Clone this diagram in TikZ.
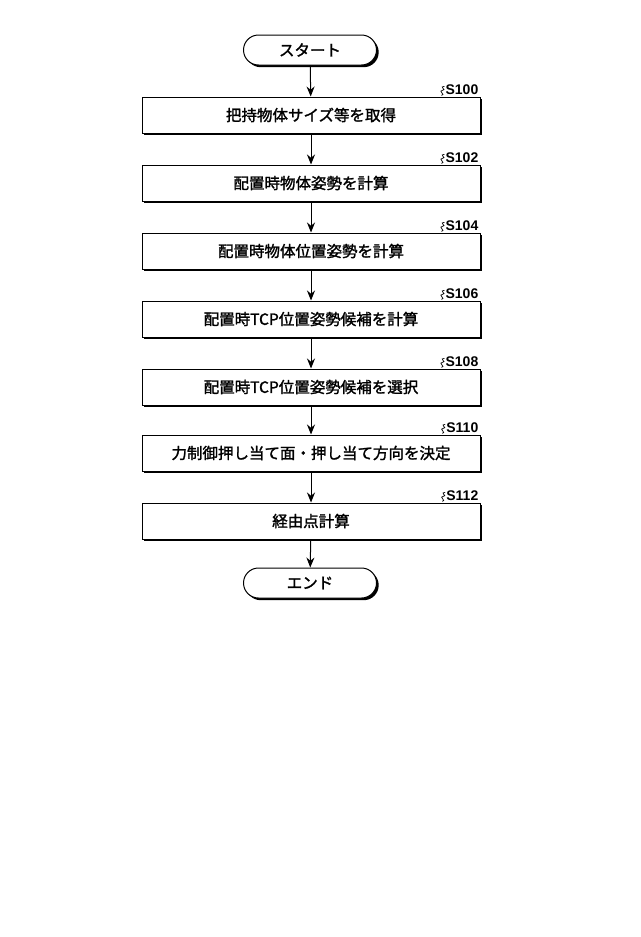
\documentclass[tikz,border=0pt]{standalone}
\usepackage{fontspec}
\newfontfamily\cjk[FakeBold=1.6]{Noto Sans CJK JP}
\setsansfont{Liberation Sans}
\usetikzlibrary{arrows.meta}
\begin{document}
\begin{tikzpicture}[x=1pt,y=-1pt,
 shadowed/.style={preaction={fill=black,transform canvas={xshift=2.2pt,yshift=-2.2pt}}},
 box/.style={draw,line width=1pt,minimum width=338pt,minimum height=36pt,font=\cjk\fontsize{15.5}{17}\selectfont,fill=white,shadowed},
 term/.style={draw,line width=1pt,rounded corners=15pt,minimum width=133pt,minimum height=30pt,font=\cjk\fontsize{15.5}{17}\selectfont,fill=white,shadowed},
 arr/.style={-{Stealth[length=10pt,width=8pt]},line width=1pt},
 lbl/.style={font=\sffamily\bfseries\fontsize{14}{16}\selectfont,anchor=south east,inner sep=0pt}]
\useasboundingbox (0,0) rectangle (640,937);
\fill[white] (0,0) rectangle (640,937);
\node[term] (s) at (310,50) {スタート};
\node[box] (b1) at (311,115) {把持物体サイズ等を取得};
\node[box] (b2) at (311,183) {配置時物体姿勢を計算};
\node[box] (b3) at (311,251) {配置時物体位置姿勢を計算};
\node[box] (b4) at (311,319) {配置時TCP位置姿勢候補を計算};
\node[box] (b5) at (311,387) {配置時TCP位置姿勢候補を選択};
\node[box] (b6) at (311,453) {力制御押し当て面・押し当て方向を決定};
\node[box] (b7) at (311,521) {経由点計算};
\node[term] (e) at (310,583) {エンド};
\draw[arr] (s) -- (b1);
\draw[arr] (b1) -- (b2);
\draw[arr] (b2) -- (b3);
\draw[arr] (b3) -- (b4);
\draw[arr] (b4) -- (b5);
\draw[arr] (b5) -- (b6);
\draw[arr] (b6) -- (b7);
\draw[arr] (b7) -- (e);
\foreach \n/\t in {b1/S100,b2/S102,b3/S104,b4/S106,b5/S108,b6/S110,b7/S112}{
 \node[lbl] (l\n) at ([xshift=-2pt,yshift=2pt]\n.north east) {\t};
 \draw[line width=0.7pt] ([xshift=-1pt,yshift=3pt]l\n.west) .. controls ++(-6,0) and ++(5,0) .. ++(-2,4) .. controls ++(-5,0) and ++(5,0) .. ++(-1,5);
}
\end{tikzpicture}
\end{document}
